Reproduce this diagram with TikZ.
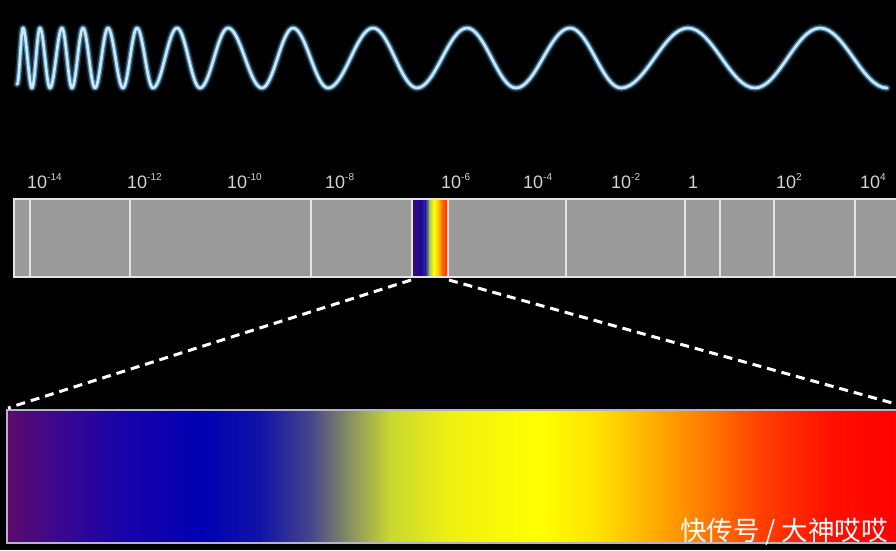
\documentclass[tikz,border=0pt]{standalone}
\usepackage{fontspec}
\setmainfont{Liberation Sans}
\newfontfamily\cjk{Noto Sans CJK SC}
\definecolor{wglow}{HTML}{2E6E9A}
\definecolor{wmid}{HTML}{6FB4DA}
\definecolor{wcore}{HTML}{C8E8F8}
\definecolor{bargray}{HTML}{9A9A9A}
\definecolor{barline}{HTML}{E4E4E4}
\definecolor{labc}{HTML}{D4D4D4}
\definecolor{boxline}{HTML}{B4B4CC}
% bottom spectrum stops
\definecolor{g0}{HTML}{5C0A6A}
\definecolor{g1}{HTML}{3A0890}
\definecolor{g2}{HTML}{1A02A8}
\definecolor{g3}{HTML}{0000B2}
\definecolor{g4}{HTML}{1212A8}
\definecolor{g5}{HTML}{44448C}
\definecolor{g6}{HTML}{8A9060}
\definecolor{g7}{HTML}{C8D830}
\definecolor{g8}{HTML}{F0F010}
\definecolor{g9}{HTML}{FFFF00}
\definecolor{g10}{HTML}{FFE000}
\definecolor{g11}{HTML}{FFB000}
\definecolor{g12}{HTML}{FF8000}
\definecolor{g13}{HTML}{FF4000}
\definecolor{g14}{HTML}{FF1000}
\definecolor{g15}{HTML}{FF0000}
% visible strip stops
\definecolor{v0}{HTML}{3C0A78}
\definecolor{v1}{HTML}{1E0896}
\definecolor{v2}{HTML}{3030A0}
\definecolor{v3}{HTML}{B0D040}
\definecolor{v4}{HTML}{FFFF00}
\definecolor{v5}{HTML}{FFC800}
\definecolor{v6}{HTML}{FF7000}
\definecolor{v7}{HTML}{FF2000}
\tikzset{
  divider/.style={draw=barline, line width=2pt},
  lab/.style={anchor=base west, text=labc, inner sep=0pt, font=\fontsize{18}{18}\selectfont},
  dashline/.style={draw=white, line width=3pt, dash pattern=on 9pt off 6pt},
}
\newcommand{\pw}[1]{\raisebox{7.5pt}{\fontsize{10}{10}\selectfont #1}}
\begin{document}
\begin{tikzpicture}[x=1pt,y=-1pt]
\fill[black] (0,0) rectangle (896,550);
\useasboundingbox (0,0) rectangle (896,550);

% wave
\foreach \lw/\cc/\op in {8/wglow/0.35, 5/wmid/0.6, 2.6/wcore/1}{
\draw[line width=\lw pt, draw=\cc, opacity=\op, line cap=round, line join=round]
  (17,84) foreach \x [count=\i, remember=\x as \px (initially 17),
     evaluate=\i as \ya using {ifthenelse(mod(\i,2)==1,88,28)},
     evaluate=\i as \yb using {ifthenelse(mod(\i,2)==1,28,88)}]
  in {23,32,40,50,62,72,83,95,108,123,137,153,177,200,228,262,293,328,373,417,467,516,570,621,688,755,820,887}
  { .. controls ({\px+0.36*(\x-\px)},\ya) and ({\x-0.36*(\x-\px)},\yb) .. (\x,\yb) };
}

% labels
\node[lab] (l14) at (27,188) {10\pw{-14}};
\node[lab] (l12) at (127,188) {10\pw{-12}};
\node[lab] (l10) at (227,188) {10\pw{-10}};
\node[lab] (l8) at (325,188) {10\pw{-8}};
\node[lab] (l6) at (441,188) {10\pw{-6}};
\node[lab] (l4) at (523,188) {10\pw{-4}};
\node[lab] (l2) at (611,188) {10\pw{-2}};
\node[lab] (l0) at (688,188) {1};
\node[lab] (lp2) at (776,188) {10\pw{2}};
\node[lab] (lp4) at (860,188) {10\pw{4}};

% bar
\fill[bargray] (14,199) rectangle (900,277);
\foreach \xa/\ca/\xb/\cb in {413/v0/421/v1, 421/v1/426/v2, 426/v2/430/v3, 430/v3/434/v4, 434/v4/438/v5, 438/v5/442/v6, 442/v6/448/v7}
  \shade[left color=\ca, right color=\cb] (\xa-0.3,199) rectangle (\xb+0.3,277);
\draw[draw=barline, line width=2pt] (14,199) rectangle (902,277);
\foreach \x in {30,130,311,412,448,566,685,720,774,855}
  \draw[divider] (\x,199) -- (\x,277);

% bottom spectrum box
\foreach \xa/\ca/\xb/\cb in {7/g0/60/g1, 60/g1/120/g2, 120/g2/200/g3, 200/g3/260/g4, 260/g4/310/g5, 310/g5/350/g6, 350/g6/390/g7, 390/g7/450/g8, 450/g8/540/g9, 540/g9/600/g10, 600/g10/650/g11, 650/g11/700/g12, 700/g12/760/g13, 760/g13/830/g14, 830/g14/900/g15}
  \shade[left color=\ca, right color=\cb] (\xa-0.3,410) rectangle (\xb+0.3,543);
\draw[draw=boxline, line width=2.5pt] (7,410) rectangle (904,543);

% connectors
\coordinate (visL) at (411,280);
\coordinate (visR) at (449,280);
\coordinate (boxL) at (8,408);
\coordinate (boxR) at (896,404);
\draw[dashline] (visL) -- (boxL);
\draw[dashline] (visR) -- (boxR);

% watermark
\node[anchor=base east, text=white, inner sep=0pt, font=\cjk\fontsize{26.5}{26.5}\selectfont] (wm) at (888,540) {快传号 / 大神哎哎};
\end{tikzpicture}
\end{document}
